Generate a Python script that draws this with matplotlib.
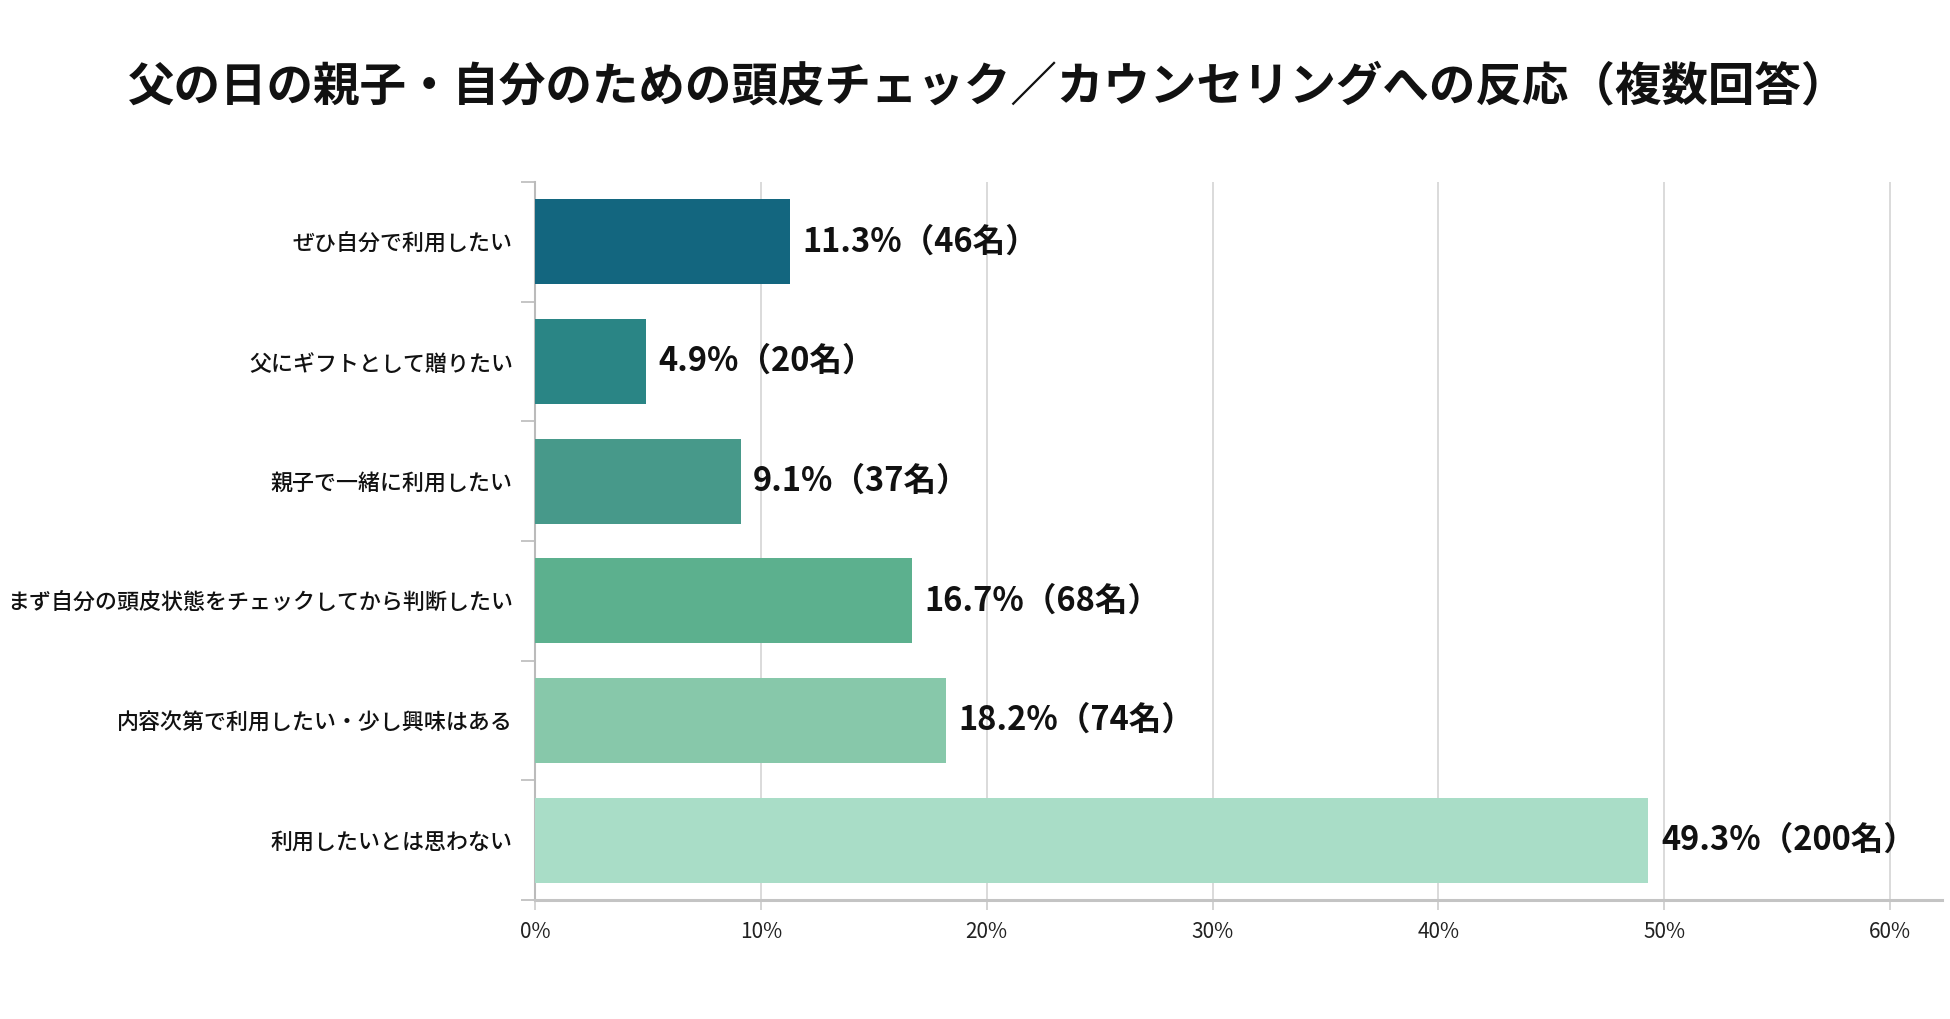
import numpy as np
import matplotlib
matplotlib.use("Agg")
import matplotlib.pyplot as plt
from matplotlib.ticker import FixedLocator, PercentFormatter

plt.rcParams["font.family"] = ["Noto Sans CJK JP", "DejaVu Sans"]

title = "父の日の親子・自分のための頭皮チェック／カウンセリングへの反応（複数回答）"
categories = [
    "ぜひ自分で利用したい",
    "父にギフトとして贈りたい",
    "親子で一緒に利用したい",
    "まず自分の頭皮状態をチェックしてから判断したい",
    "内容次第で利用したい・少し興味はある",
    "利用したいとは思わない",
]
percents = [11.3, 4.9, 9.1, 16.7, 18.2, 49.3]
counts = [46, 20, 37, 68, 74, 200]
bar_colors = ["#13667f", "#2a8585", "#47998a", "#5cb08e", "#87c8aa", "#a9ddc7"]
x_ticks = [0, 10, 20, 30, 40, 50, 60]

fig = plt.figure(figsize=(19.5, 10.19), dpi=100)
ax = fig.add_axes([0.2744, 0.1168, 0.7215, 0.7046])

y = np.arange(len(categories))
bars = ax.barh(y, percents, height=0.71, color=bar_colors, zorder=3)

for rect, p, n in zip(bars, percents, counts):
    ax.annotate(
        f"{p:.1f}%（{n}名）",
        xy=(rect.get_width(), rect.get_y() + rect.get_height() / 2),
        xytext=(9, 0),
        textcoords="offset points",
        ha="left",
        va="center",
        fontsize=23.5,
        fontweight="bold",
        color="#111111",
        zorder=4,
    )

ax.set_xlim(0, 62.3)
ax.set_ylim(len(categories) - 0.5, -0.5)

ax.set_xticks(x_ticks)
ax.xaxis.set_major_formatter(PercentFormatter(decimals=0))
ax.tick_params(axis="x", length=7, width=1.2, color="#cccccc", pad=8,
               labelsize=15, labelcolor="#222222")
ax.grid(axis="x", color="#d4d4d4", linewidth=1.2, zorder=0)

ax.set_yticks(y)
ax.set_yticklabels(categories, fontsize=15.8, fontweight="medium", color="#111111")
ax.tick_params(axis="y", which="major", length=0, pad=16)
ax.yaxis.set_minor_locator(FixedLocator(np.arange(-0.5, len(categories), 1.0)))
ax.tick_params(axis="y", which="minor", length=10, width=1.2, color="#bbbbbb")

for side in ["top", "right"]:
    ax.spines[side].set_visible(False)
ax.spines["left"].set_color("#bbbbbb")
ax.spines["left"].set_linewidth(1.5)
ax.spines["bottom"].set_color("#c4c4c4")
ax.spines["bottom"].set_linewidth(2.2)

fig.text(0.507, 0.915, title, ha="center", va="center",
         fontsize=33.5, fontweight="bold", color="#111111")

fig.savefig("out.png", dpi=100, facecolor="white")
